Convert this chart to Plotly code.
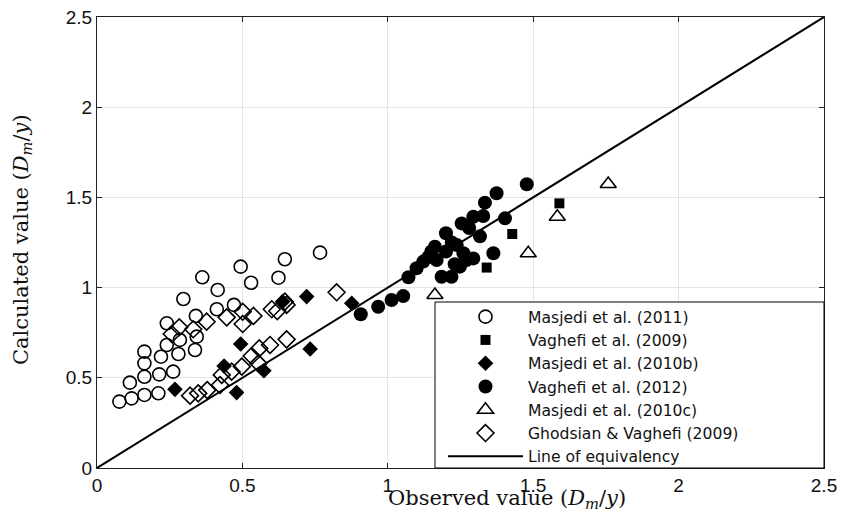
import plotly.graph_objects as go

# ---- data ----
m2011_x = [0.077, 0.119, 0.163, 0.211, 0.113, 0.163, 0.214, 0.262, 0.163, 0.163, 0.220, 0.280,
           0.337, 0.240, 0.285, 0.343, 0.240, 0.340, 0.412, 0.471, 0.297, 0.415, 0.530, 0.362,
           0.494, 0.624, 0.646, 0.767]
m2011_y = [0.368, 0.386, 0.405, 0.414, 0.473, 0.506, 0.519, 0.534, 0.580, 0.645, 0.617, 0.632,
           0.654, 0.682, 0.710, 0.728, 0.802, 0.843, 0.880, 0.904, 0.937, 0.987, 1.027, 1.057,
           1.116, 1.055, 1.157, 1.194]

v2009_x = [1.340, 1.428, 1.590]
v2009_y = [1.111, 1.297, 1.467]

m2010b_x = [0.268, 0.480, 0.437, 0.574, 0.494, 0.638, 0.721, 0.876, 0.733]
m2010b_y = [0.436, 0.418, 0.565, 0.539, 0.687, 0.922, 0.950, 0.913, 0.660]

v2012_x = [0.907, 0.967, 1.013, 1.053, 1.071, 1.099, 1.122, 1.140, 1.162, 1.185, 1.219, 1.168,
           1.200, 1.237, 1.260, 1.271, 1.294, 1.248, 1.254, 1.294, 1.317, 1.328, 1.334, 1.363,
           1.374, 1.403, 1.478, 1.200, 1.220, 1.150, 1.280, 1.230]
v2012_y = [0.852, 0.894, 0.931, 0.953, 1.057, 1.107, 1.144, 1.170, 1.227, 1.060, 1.060, 1.153,
           1.301, 1.236, 1.190, 1.153, 1.162, 1.116, 1.356, 1.393, 1.284, 1.397, 1.471, 1.190,
           1.523, 1.384, 1.573, 1.200, 1.250, 1.200, 1.330, 1.130]

m2010c_x = [1.162, 1.483, 1.583, 1.758]
m2010c_y = [0.959, 1.190, 1.393, 1.574]

gv2009_x = [0.320, 0.348, 0.379, 0.423, 0.429, 0.463, 0.498, 0.555, 0.532, 0.558, 0.595, 0.652,
            0.257, 0.283, 0.331, 0.377, 0.446, 0.501, 0.501, 0.538, 0.601, 0.620, 0.646, 0.652,
            0.824]
gv2009_y = [0.401, 0.414, 0.432, 0.460, 0.516, 0.534, 0.562, 0.580, 0.621, 0.663, 0.682, 0.713,
            0.743, 0.780, 0.769, 0.811, 0.835, 0.798, 0.866, 0.843, 0.880, 0.870, 0.922, 0.904,
            0.974]

eq_x = [0, 2.5]
eq_y = [0, 2.5]

x_ticks = [0, 0.5, 1, 1.5, 2, 2.5]
x_tick_labels = ["0", "0.5", "1", "1.5", "2", "2.5"]
y_ticks = [0, 0.5, 1, 1.5, 2, 2.5]
y_tick_labels = ["0", "0.5", "1", "1.5", "2", "2.5"]

names = ["Masjedi et al. (2011)", "Vaghefi et al. (2009)", "Masjedi et al. (2010b)",
         "Vaghefi et al. (2012)", "Masjedi et al. (2010c)", "Ghodsian &amp; Vaghefi (2009)",
         "Line of equivalency"]

# ---- figure ----
fig = go.Figure()
mk_line = dict(color="black", width=1.6)
fig.add_trace(go.Scatter(x=m2011_x, y=m2011_y, mode="markers", name=names[0],
                         marker=dict(symbol="circle-open", size=13, color="black", line=mk_line)))
fig.add_trace(go.Scatter(x=v2009_x, y=v2009_y, mode="markers", name=names[1],
                         marker=dict(symbol="square", size=10, color="black")))
fig.add_trace(go.Scatter(x=m2010b_x, y=m2010b_y, mode="markers", name=names[2],
                         marker=dict(symbol="diamond", size=12, color="black")))
fig.add_trace(go.Scatter(x=v2012_x, y=v2012_y, mode="markers", name=names[3],
                         marker=dict(symbol="circle", size=14, color="black")))
fig.add_trace(go.Scatter(x=m2010c_x, y=m2010c_y, mode="markers", name=names[4],
                         marker=dict(symbol="triangle-up-open", size=14, color="black", line=mk_line)))
fig.add_trace(go.Scatter(x=gv2009_x, y=gv2009_y, mode="markers", name=names[5],
                         marker=dict(symbol="diamond-open", size=13, color="black", line=mk_line)))
fig.add_trace(go.Scatter(x=eq_x, y=eq_y, mode="lines", name=names[6],
                         line=dict(color="black", width=2)))

L, R, T, B = 97, 17, 17, 44
W, H = 841, 512
pw, ph = W - L - R, H - T - B

def px_x(p):
    return (p - L) / pw

def px_y(p):
    return (H - B - p) / ph

axis_common = dict(
    range=[0, 2.5], showgrid=True, gridcolor="#e3e3e3", gridwidth=1,
    zeroline=False, showline=True, linecolor="#222222", linewidth=1,
    mirror="ticks", ticks="inside", ticklen=5, tickcolor="#222222",
    tickfont=dict(family="Liberation Sans, Arial", size=19, color="#111111"),
    tickmode="array", fixedrange=True,
)
fig.update_xaxes(**axis_common, tickvals=x_ticks, ticktext=x_tick_labels)
fig.update_yaxes(**axis_common, tickvals=y_ticks, ticktext=y_tick_labels)

# legend frame
fig.add_shape(type="rect", xref="paper", yref="paper",
              x0=px_x(435), x1=1, y0=0, y1=px_y(302),
              fillcolor="white", line=dict(color="black", width=1), layer="above")

fig.add_annotation(text="Observed value (<i>D</i><sub><i>m</i></sub>/<i>y</i>)",
                   xref="paper", yref="paper", x=px_x(507), y=px_y(499),
                   showarrow=False, xanchor="center", yanchor="middle",
                   font=dict(family="DejaVu Serif", size=21, color="#111111"))
fig.add_annotation(text="Calculated value (<i>D</i><sub><i>m</i></sub>/<i>y</i>)",
                   xref="paper", yref="paper", x=px_x(22), y=px_y(240),
                   showarrow=False, textangle=-90, xanchor="center", yanchor="middle",
                   font=dict(family="DejaVu Serif", size=21, color="#111111"))

fig.update_layout(
    width=W, height=H,
    margin=dict(l=L, r=R, t=T, b=B, autoexpand=False),
    paper_bgcolor="white", plot_bgcolor="white",
    showlegend=True,
    legend=dict(x=px_x(443), y=px_y(300), xanchor="left", yanchor="top",
                bgcolor="rgba(0,0,0,0)", borderwidth=0,
                font=dict(family="DejaVu Sans", size=15.6, color="#111111"),
                itemwidth=75, tracegroupgap=0),
)

fig.write_html("out.html")
